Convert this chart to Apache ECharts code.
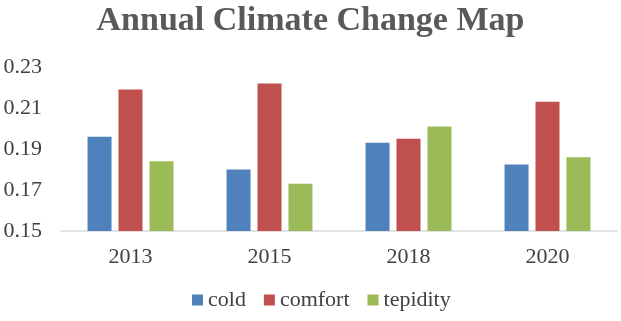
<!DOCTYPE html>
<html>
<head>
<meta charset="utf-8">
<script src="https://cdn.jsdelivr.net/npm/echarts@6/dist/echarts.min.js"></script>
<style>
  html, body { margin: 0; padding: 0; background: #fff; }
  #main { width: 621px; height: 321px; }
</style>
</head>
<body>
<div id="main"></div>
<script>
// 数据
var years = ['2013', '2015', '2018', '2020'];
var cold = [0.196, 0.180, 0.193, 0.1825];
var comfort = [0.219, 0.222, 0.195, 0.213];
var tepidity = [0.184, 0.173, 0.201, 0.186];

var myChart = echarts.init(document.getElementById('main'));
var font = '"Liberation Serif", "Times New Roman", serif';

function bar(name, data, color) {
    return {
        name: name,
        type: 'bar',
        data: data,
        barWidth: 24,
        barGap: '29%',
        itemStyle: { color: color },
        animation: false
    };
}

var option = {
    backgroundColor: '#fff',
    textStyle: { fontFamily: font },
    title: {
        text: 'Annual Climate Change Map',
        left: 'center',
        top: -1,
        textStyle: {
            fontFamily: font,
            fontSize: 34,
            fontWeight: 'bold',
            color: '#595959'
        }
    },
    legend: {
        bottom: 5,
        left: 187,
        itemWidth: 11,
        itemHeight: 11,
        itemGap: 18,
        icon: 'rect',
        textStyle: { fontFamily: font, fontSize: 22, color: '#404040' },
        data: ['cold', 'comfort', 'tepidity']
    },
    grid: {
        left: 61,
        right: 4,
        top: 67,
        bottom: 90
    },
    xAxis: {
        type: 'category',
        data: years,
        axisTick: { show: false },
        axisLine: { lineStyle: { color: '#d9d9d9', width: 1.5 } },
        axisLabel: { fontFamily: font, fontSize: 22, color: '#404040', margin: 15 }
    },
    yAxis: {
        type: 'value',
        min: 0.15,
        max: 0.23,
        interval: 0.02,
        splitLine: { show: false },
        axisLine: { show: false },
        axisTick: { show: false },
        axisLabel: {
            fontFamily: font, fontSize: 22, color: '#404040', margin: 19,
            formatter: function (v) { return v.toFixed(2); }
        }
    },
    series: [
        bar('cold', cold, '#4f81bd'),
        bar('comfort', comfort, '#c0504d'),
        bar('tepidity', tepidity, '#9bbb59')
    ]
};
myChart.setOption(option);
</script>
</body>
</html>
